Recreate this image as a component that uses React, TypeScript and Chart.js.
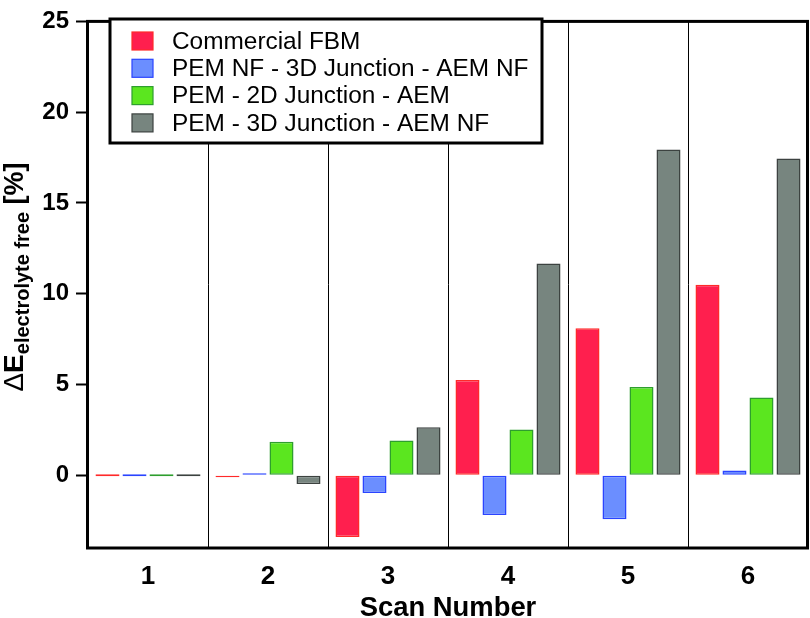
import React, { useEffect, useRef } from "react";
import { Chart, registerables } from "chart.js";
Chart.register(...registerables);

const categories = ["1", "2", "3", "4", "5", "6"];
const seriesNames = [
  "Commercial FBM",
  "PEM NF - 3D Junction - AEM NF",
  "PEM - 2D Junction - AEM",
  "PEM - 3D Junction - AEM NF",
];
const commercialFBM = [0, -0.1, -3.4, 5.25, 8.1, 10.5];
const pemNF3DAemNF = [0, 0.1, -0.97, -2.18, -2.42, 0.27];
const pem2DAem = [0, 1.85, 1.92, 2.53, 4.87, 4.29];
const pem3DAemNF = [0, -0.47, 2.65, 11.67, 17.95, 17.45];
const yTicks = [0, 5, 10, 15, 20, 25];
const yMin = -4;
const yMax = 25;

const fillColors = ["#FF1F4E", "#6B8EFF", "#5BE61F", "#77857F"];
const borderColors = ["#FF2A2A", "#2A44FF", "#2E9E2E", "#3C4240"];

const FONT = "'Liberation Sans', Arial, sans-serif";

const decorPlugin = {
  id: "decor",
  afterDraw(chart: any) {
    const { ctx, chartArea } = chart;
    const { left, right, top, bottom } = chartArea;
    ctx.save();
    // frame
    ctx.strokeStyle = "#000";
    ctx.lineWidth = 3;
    ctx.strokeRect(left - 0.5, top, right - left, bottom - top);

    // legend
    const lx = 110, ly = 19, lw = 432, lh = 124;
    ctx.fillStyle = "#fff";
    ctx.fillRect(lx, ly, lw, lh);
    ctx.lineWidth = 3;
    ctx.strokeStyle = "#000";
    ctx.strokeRect(lx, ly, lw, lh);
    ctx.font = `24.4px ${FONT}`;
    ctx.textBaseline = "middle";
    ctx.textAlign = "left";
    chart.data.datasets.forEach((ds: any, i: number) => {
      const cy = 41 + i * 27.3;
      ctx.fillStyle = ds.backgroundColor;
      ctx.fillRect(132, cy - 9, 21, 18);
      ctx.lineWidth = 1.2;
      ctx.strokeStyle = ds.borderColor;
      ctx.strokeRect(132, cy - 9, 21, 18);
      ctx.fillStyle = "#000";
      ctx.fillText(ds.label, 172, cy + 1);
    });

    // x title
    ctx.font = `bold 27.4px ${FONT}`;
    ctx.textAlign = "center";
    ctx.textBaseline = "alphabetic";
    ctx.fillStyle = "#000";
    ctx.fillText("Scan Number", (left + right) / 2, 616);

    // y title with subscript
    const parts = [
      { t: "\u0394", f: `28px ${FONT}`, dy: 0 },
      { t: "E", f: `bold 28px ${FONT}`, dy: 0 },
      { t: "electrolyte free", f: `bold 20px ${FONT}`, dy: 6 },
      { t: " [%]", f: `bold 27px ${FONT}`, dy: 0 },
    ];
    let total = 0;
    parts.forEach((p) => {
      ctx.font = p.f;
      total += ctx.measureText(p.t).width;
    });
    ctx.translate(23, 277);
    ctx.rotate(-Math.PI / 2);
    ctx.textAlign = "left";
    let x = -total / 2;
    parts.forEach((p) => {
      ctx.font = p.f;
      ctx.fillText(p.t, x, p.dy);
      x += ctx.measureText(p.t).width;
    });
    ctx.restore();
  },
};

export default function App() {
  const ref = useRef<HTMLCanvasElement>(null);
  useEffect(() => {
    const seriesValues = [commercialFBM, pemNF3DAemNF, pem2DAem, pem3DAemNF];
    const chart = new Chart(ref.current!, {
      type: "bar",
      data: {
        labels: categories,
        datasets: seriesNames.map((name, i) => ({
          label: name,
          data: seriesValues[i],
          backgroundColor: fillColors[i],
          borderColor: borderColors[i],
          borderWidth: 1.5,
          borderSkipped: false,
          minBarLength: 2,
          categoryPercentage: 0.9,
          barPercentage: 0.89,
        })),
      },
      options: {
        animation: false,
        responsive: false,
        layout: { padding: { left: 0, top: 6, right: 2, bottom: 0 } },
        plugins: { legend: { display: false }, tooltip: { enabled: false } },
        scales: {
          x: {
            afterFit: (s: any) => {
              s.height = 70;
            },
            grid: { offset: true, color: "#000", lineWidth: 1, drawTicks: false },
            border: { display: false },
            ticks: {
              color: "#000",
              padding: 13,
              font: { family: FONT, size: 26, weight: "bold" },
            },
          },
          y: {
            min: yMin,
            max: yMax,
            afterFit: (s: any) => {
              s.width = 88;
            },
            afterBuildTicks: (s: any) => {
              s.ticks = yTicks.map((v) => ({ value: v }));
            },
            grid: {
              drawOnChartArea: false,
              drawTicks: true,
              tickLength: 12,
              tickWidth: 2,
              tickColor: "#000",
            },
            border: { display: false },
            ticks: {
              color: "#000",
              padding: 7,
              font: { family: FONT, size: 24, weight: "bold" },
            },
          },
        },
      },
      plugins: [decorPlugin],
    });
    return () => chart.destroy();
  }, []);
  return (
    <div style={{ position: "fixed", left: 0, top: 0, width: 810, height: 618, background: "#fff" }}>
      <canvas ref={ref} width={810} height={618} style={{ display: "block" }} />
    </div>
  );
}
